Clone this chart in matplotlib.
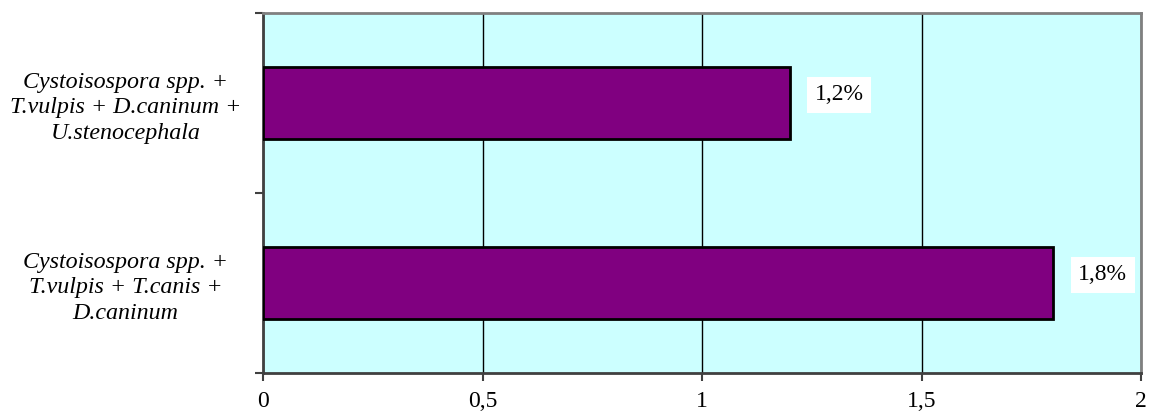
import matplotlib
matplotlib.use("Agg")
import matplotlib.pyplot as plt

categories = ["Cystoisospora spp. +\nT.vulpis + T.canis +\nD.caninum",
              "Cystoisospora spp. +\nT.vulpis + D.caninum +\nU.stenocephala"]
values = [1.8, 1.2]
value_labels = ["1,8%", "1,2%"]
x_ticks = [0, 0.5, 1, 1.5, 2]
x_tick_labels = ["0", "0,5", "1", "1,5", "2"]

plt.rcParams['font.family'] = ['Liberation Serif', 'DejaVu Serif']

fig = plt.figure(figsize=(11.5, 4.13), dpi=100)
ax = fig.add_axes([263/1150, 1 - 373/413, (1141-263)/1150, 360/413])
ax.set_facecolor("#CCFFFF")

ypos = [0, 1]
ax.barh(ypos, values, height=0.4, color="#800080", edgecolor="black", linewidth=2, zorder=3)

ax.set_xlim(0, 2)
ax.set_ylim(-0.5, 1.5)
ax.set_xticks(x_ticks)
ax.set_xticklabels(x_tick_labels, fontsize=17)
ax.xaxis.grid(True, color="black", linewidth=1, zorder=1)
ax.set_axisbelow(True)

# category ticks at boundaries, labels at centers
ax.set_yticks([-0.5, 0.5, 1.5])
ax.set_yticklabels([])
ax.set_yticks(ypos, minor=True)
ax.set_yticklabels(categories, minor=True, fontsize=17.3, style="italic",
                   ha="center", linespacing=1.3)
ax.tick_params(axis="y", which="minor", length=0, pad=99)
ax.tick_params(axis="y", which="major", length=6, width=1.5, color="#404040")
ax.tick_params(axis="x", length=6, width=1.5, color="#404040", pad=7)

for s in ["left", "bottom"]:
    ax.spines[s].set_color("#404040")
    ax.spines[s].set_linewidth(2)
for s in ["top", "right"]:
    ax.spines[s].set_color("#808080")
    ax.spines[s].set_linewidth(2)

for y, v, lab in zip(ypos, values, value_labels):
    ax.annotate(lab, xy=(v, y), xytext=(18, 6), textcoords="offset points",
                ha="left", va="center", fontsize=17, zorder=4,
                bbox=dict(boxstyle="square,pad=0.32", facecolor="white", edgecolor="none"))

fig.savefig("out.png", dpi=100)
